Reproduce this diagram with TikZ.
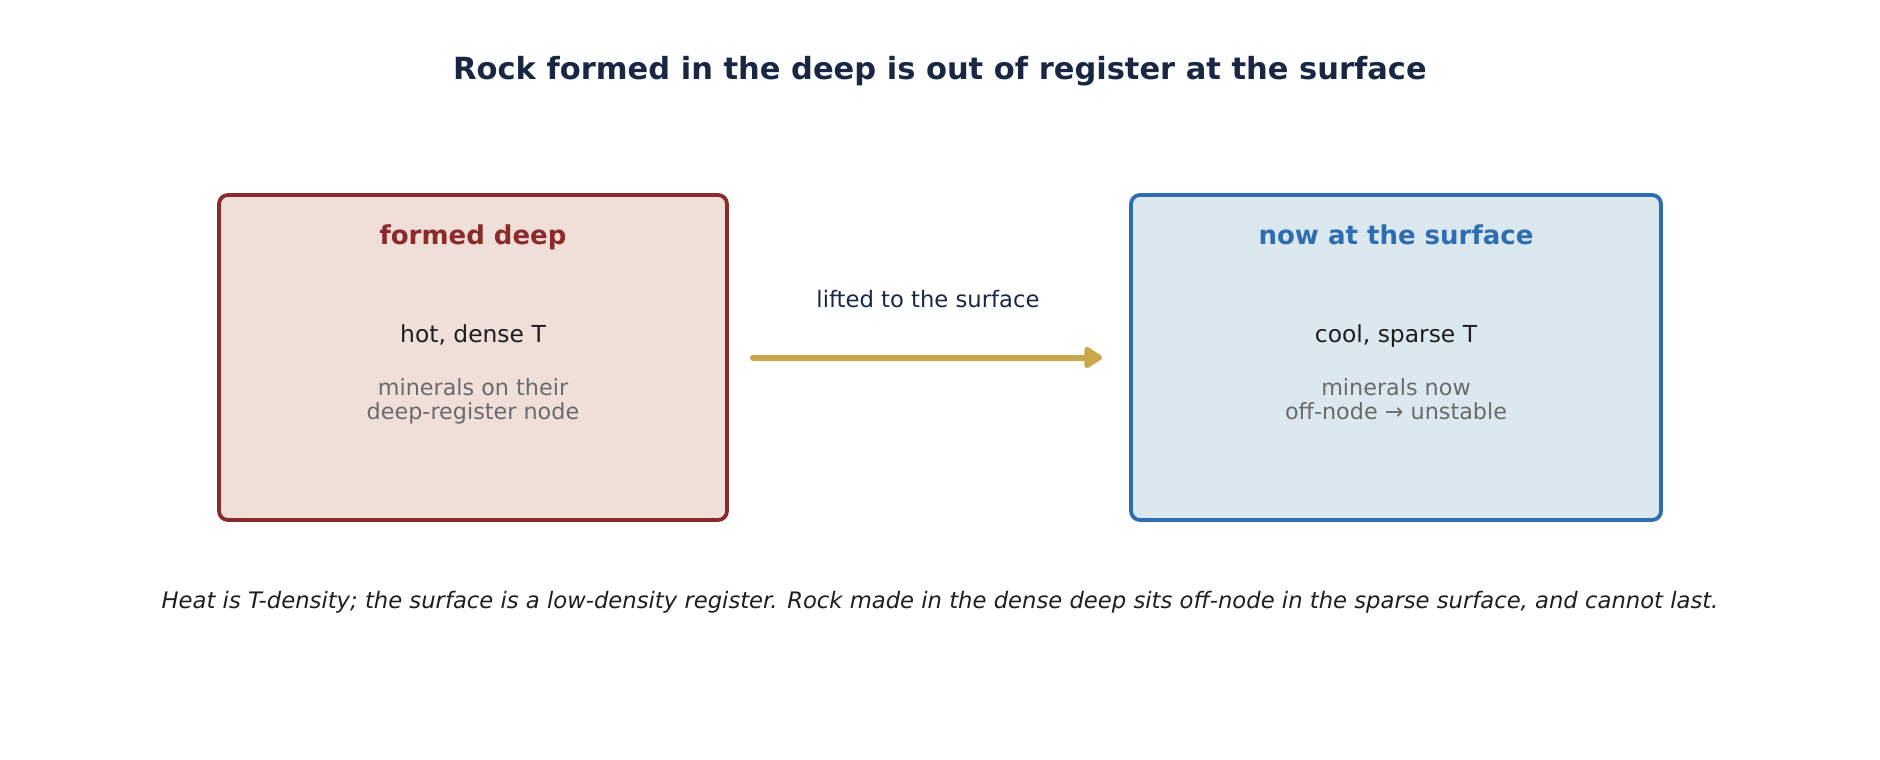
\documentclass[tikz,border=0pt]{standalone}
\usepackage{fontspec}
\setmainfont{DejaVu Sans}
\usetikzlibrary{arrows.meta}
\definecolor{navy}{HTML}{1A2744}
\definecolor{redb}{HTML}{8B2A2A}
\definecolor{redf}{HTML}{F0DED8}
\definecolor{blueb}{HTML}{2E6DB0}
\definecolor{bluef}{HTML}{DCE8F0}
\definecolor{gold}{HTML}{C9A84C}
\definecolor{graytxt}{HTML}{6B6B6B}
\definecolor{ink}{HTML}{1E1E1E}
\tikzset{
  panel/.style={rounded corners=9pt, line width=3.8pt, inner sep=0pt, minimum height=325pt},
  head/.style={font=\bfseries\fontsize{26}{30}\selectfont, anchor=center, text height=19pt, text depth=5pt},
  body/.style={font=\fontsize{23.4}{28}\selectfont, text=ink, anchor=center, text height=17pt, text depth=4pt},
  note/.style={font=\fontsize{22.3}{24.5}\selectfont, text=graytxt, align=center, anchor=center},
}
\begin{document}
\begin{tikzpicture}[x=1pt,y=-1pt]
\useasboundingbox (0,0) rectangle (1880,760);
\node[font=\bfseries\fontsize{30.5}{34}\selectfont, text=navy] (title) at (940,71) {Rock formed in the deep is out of register at the surface};
\node[panel, draw=redb, fill=redf, minimum width=508pt] (L) at (473,357.5) {};
\node[panel, draw=blueb, fill=bluef, minimum width=530pt] (R) at (1396,357.5) {};
\node[head, text=redb] (lh) at (473,237) {formed deep};
\node[body] (lb) at (473,336) {hot, dense T};
\node[note] (ln) at (473,401.5) {minerals on their\\deep-register node};
\node[head, text=blueb] (rh) at (1396,237) {now at the surface};
\node[body] (rb) at (1396,336) {cool, sparse T};
\node[note] (rn) at (1396,399) {minerals now\\off-node → unstable};
\draw[gold, line width=6pt, line cap=round, shorten <=24pt, shorten >=27pt, -{Triangle[length=20pt,width=24pt,round]}] (L.east) -- (R.west);
\node[font=\fontsize{22.7}{27}\selectfont, text=navy] (al) at (928,299) {lifted to the surface};
\node[font=\itshape\fontsize{22.7}{27}\selectfont, text=ink] (cap) at (940,602) {Heat is T-density; the surface is a low-density register. Rock made in the dense deep sits off-node in the sparse surface, and cannot last.};
\end{tikzpicture}
\end{document}
